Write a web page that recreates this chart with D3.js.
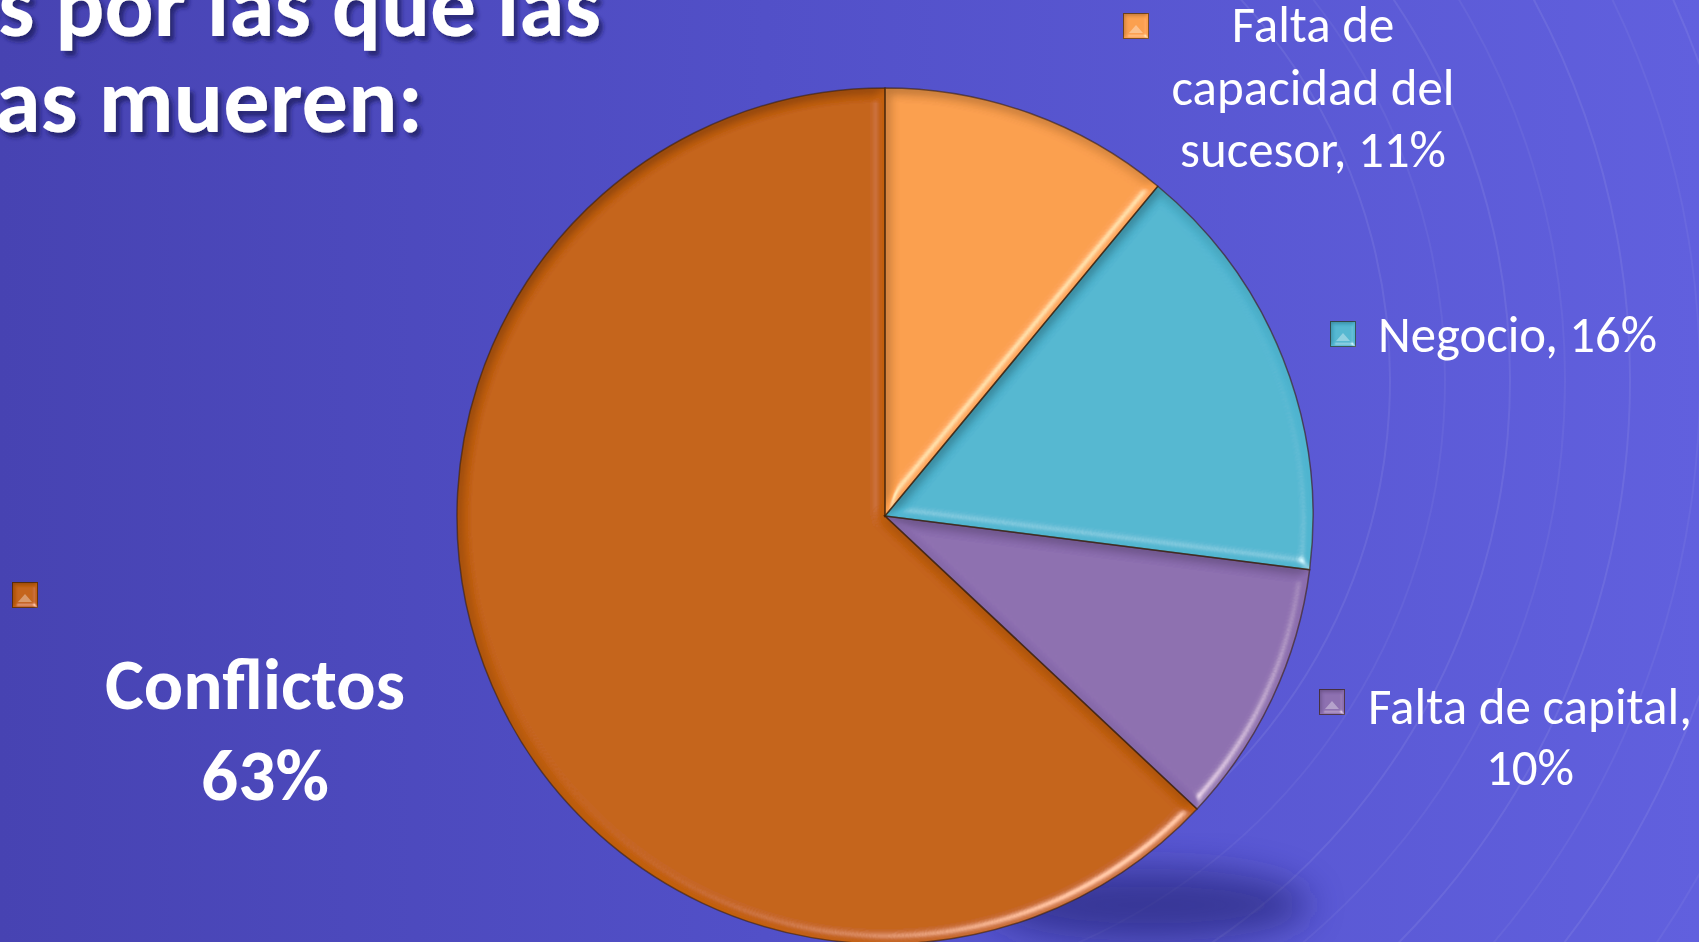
<!DOCTYPE html>
<html>
<head>
<meta charset="utf-8">
<script src="https://cdn.jsdelivr.net/npm/d3@7"></script>
<style>
  html, body { margin: 0; padding: 0; overflow: hidden; background: #4f4dc4; }
  svg { display: block; }
</style>
</head>
<body>
<svg id="chart" width="1699" height="942"></svg>
<script>
// data
var categories = ['Falta de capacidad del sucesor', 'Negocio', 'Falta de capital', 'Conflictos'];
var values = [11, 16, 10, 63];
var labelLines = [
  ['Falta de', 'capacidad del', 'sucesor, 11%'],
  ['Negocio, 16%'],
  ['Falta de capital,', '10%'],
  ['Conflictos', '63%']
];
var titleLines = ['Razones por las que las', 'empresas mueren:'];
var sliceColors = ['#F99D4C', '#4FB5D0', '#8A6CAE', '#C25F0D'];

var W = 1699, H = 942;
var cx = 885, cy = 516, R = 428;
var FONT = 'Carlito, Calibri, Lato, sans-serif';

var svg = d3.select('#chart');
var defs = svg.append('defs');

// background gradient
var bg = defs.append('linearGradient').attr('id', 'bg')
  .attr('x1', 0).attr('y1', 0).attr('x2', 1).attr('y2', 0);
bg.append('stop').attr('offset', '0%').attr('stop-color', '#4743b2');
bg.append('stop').attr('offset', '45%').attr('stop-color', '#5250c8');
bg.append('stop').attr('offset', '100%').attr('stop-color', '#6160de');

// bevel filter for slices and legend keys
function makeBevel(id, blur, scale, elev) {
  var f = defs.append('filter').attr('id', id)
    .attr('x', '-5%').attr('y', '-5%').attr('width', '110%').attr('height', '110%');
  f.append('feGaussianBlur').attr('in', 'SourceAlpha').attr('stdDeviation', blur).attr('result', 'b');
  // diffuse constant chosen so a flat area keeps its own colour
  f.append('feDiffuseLighting').attr('in', 'b').attr('surfaceScale', scale)
    .attr('diffuseConstant', 1 / Math.sin(elev * Math.PI / 180))
    .attr('lighting-color', '#fff').attr('result', 'd')
    .append('feDistantLight').attr('azimuth', 55).attr('elevation', elev);
  // soften the shading: S * (0.6 + 0.4 * D)
  f.append('feComposite').attr('in', 'SourceGraphic').attr('in2', 'd')
    .attr('operator', 'arithmetic').attr('k1', 0.4).attr('k2', 0.6).attr('k3', 0).attr('k4', 0)
    .attr('result', 'lit');
  f.append('feSpecularLighting').attr('in', 'b').attr('surfaceScale', scale)
    .attr('specularConstant', 0.9).attr('specularExponent', 30)
    .attr('lighting-color', '#fff2dc').attr('result', 's')
    .append('feDistantLight').attr('azimuth', 55).attr('elevation', 35);
  f.append('feComposite').attr('in', 's').attr('in2', 'SourceAlpha').attr('operator', 'in').attr('result', 'sIn');
  f.append('feComposite').attr('in', 'lit').attr('in2', 'sIn')
    .attr('operator', 'arithmetic').attr('k1', 0).attr('k2', 1).attr('k3', 0.6).attr('k4', 0);
}
makeBevel('bevel', 6, 8, 45);
makeBevel('bevelSmall', 2, 3, 45);

defs.append('filter').attr('id', 'blurShadow')
  .attr('x', '-50%').attr('y', '-50%').attr('width', '200%').attr('height', '200%')
  .append('feGaussianBlur').attr('stdDeviation', 18);

var ts = defs.append('filter').attr('id', 'textShadow')
  .attr('x', '-10%').attr('y', '-20%').attr('width', '120%').attr('height', '150%');
ts.append('feDropShadow').attr('dx', 4).attr('dy', 5).attr('stdDeviation', 2)
  .attr('flood-color', '#1d1b5c').attr('flood-opacity', 0.75);

svg.append('rect').attr('width', W).attr('height', H).attr('fill', 'url(#bg)');

// faint swoosh lines in the background
var swoosh = svg.append('g').attr('fill', 'none').attr('stroke', '#ffffff');
var ringRadii = [560, 615, 680, 735, 800, 870, 925, 1000];
ringRadii.forEach(function (r, i) {
  var arc = d3.arc().innerRadius(r).outerRadius(r).startAngle(0.35 + i * 0.03).endAngle(2.9);
  swoosh.append('path')
    .attr('transform', 'translate(830,380)')
    .attr('d', arc())
    .attr('stroke-width', 2)
    .attr('stroke-opacity', i % 2 ? 0.05 : 0.08);
});

// shadow under the pie
svg.append('ellipse')
  .attr('cx', 1150).attr('cy', 905).attr('rx', 160).attr('ry', 36)
  .attr('fill', '#1f1c68').attr('opacity', 0.55)
  .attr('filter', 'url(#blurShadow)');

// pie
var pie = d3.pie().sort(null).value(function (d) { return d; });
var arcs = pie(values);
var arcGen = d3.arc().innerRadius(0).outerRadius(R);

var pieG = svg.append('g').attr('transform', 'translate(' + cx + ',' + cy + ')');
pieG.selectAll('path.slice')
  .data(arcs)
  .enter()
  .append('path')
  .attr('class', 'slice')
  .attr('d', arcGen)
  .attr('fill', function (d, i) { return sliceColors[i]; })
  .attr('filter', 'url(#bevel)');

pieG.selectAll('path.outline')
  .data(arcs)
  .enter()
  .append('path')
  .attr('class', 'outline')
  .attr('d', arcGen)
  .attr('fill', 'none')
  .attr('stroke', '#3a1f0a')
  .attr('stroke-opacity', 0.6)
  .attr('stroke-width', 1.5);

// title (runs off the left edge of the slide)
// hidden = chars cut off on the left, vis = width of the visible rest
var titlePos = [{ x: 601, y: 36, hidden: 6, vis: 603 }, { x: 423, y: 132, hidden: 6, vis: 428 }];
titleLines.forEach(function (t, i) {
  var P = titlePos[i];
  var tx = svg.append('text')
    .attr('x', P.x).attr('y', P.y)
    .attr('text-anchor', 'end')
    .attr('font-family', FONT).attr('font-weight', 700).attr('font-size', 90)
    .attr('fill', '#ffffff')
    .attr('filter', 'url(#textShadow)')
    .text(t);
  var n = tx.node();
  var visW = n.getSubStringLength(P.hidden, t.length - P.hidden);
  tx.attr('font-size', 90 * P.vis / visW);
});

// data labels with legend keys
var labelLayout = [
  { x: [1313, 1313, 1313], y: 42, lh: 62.5, anchor: 'middle', w: 283, ref: 1, key: [1123, 13], bold: false },
  { x: [1378], y: 352, lh: 60, anchor: 'start', w: 279, ref: 0, key: [1330, 321], bold: false },
  { x: [1530, 1530], y: 724, lh: 61, anchor: 'middle', w: 324, ref: 0, key: [1319, 689], bold: false },
  { x: [255, 265], y: 709, lh: 91, anchor: 'middle', w: 300, ref: 0, key: [12, 582], bold: true }
];

labelLines.forEach(function (lines, i) {
  var L = labelLayout[i];
  var t = svg.append('text')
    .attr('font-family', FONT)
    .attr('font-weight', L.bold ? 700 : 400)
    .attr('font-size', L.bold ? 73 : 52)
    .attr('fill', '#ffffff')
    .attr('text-anchor', L.anchor);
  var spans = lines.map(function (s, j) {
    return t.append('tspan').attr('x', L.x[j]).attr('y', L.y + j * L.lh).text(s);
  });
  var cur = spans[L.ref].node().getComputedTextLength();
  var fs = parseFloat(t.attr('font-size'));
  t.attr('font-size', fs * L.w / cur);

  // legend key: small bevelled square
  var k = svg.append('g').attr('transform', 'translate(' + L.key[0] + ',' + L.key[1] + ')');
  k.append('rect').attr('width', 26).attr('height', 26)
    .attr('fill', sliceColors[i]).attr('filter', 'url(#bevelSmall)');
  k.append('rect').attr('x', 0.5).attr('y', 0.5).attr('width', 25).attr('height', 25)
    .attr('fill', 'none').attr('stroke', '#2a1606').attr('stroke-opacity', 0.6);
  k.append('path').attr('d', 'M6,20 L13,12 L20,20 Z')
    .attr('fill', '#ffffff').attr('fill-opacity', 0.35);
});
</script>
</body>
</html>
